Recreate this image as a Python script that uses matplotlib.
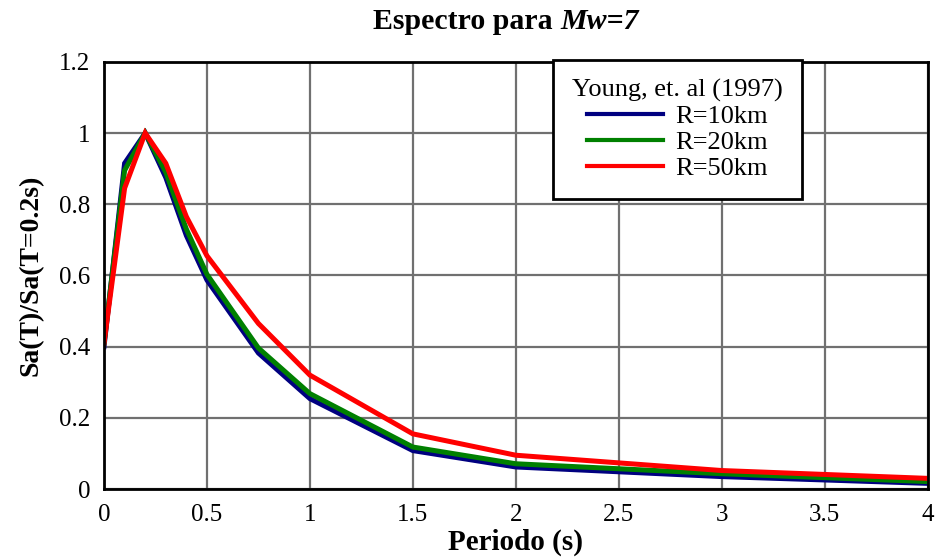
import matplotlib
matplotlib.use("Agg")
import matplotlib.pyplot as plt

periods = [0.0, 0.1, 0.2, 0.3, 0.4, 0.5, 0.75, 1.0, 1.5, 2.0, 3.0, 4.0]
r10 = [0.40, 0.915, 1.0, 0.875, 0.712, 0.587, 0.382, 0.254, 0.108, 0.062, 0.035, 0.016]
r20 = [0.41, 0.895, 1.0, 0.89, 0.73, 0.603, 0.396, 0.268, 0.118, 0.071, 0.043, 0.021]
r50 = [0.41, 0.845, 1.0, 0.915, 0.765, 0.655, 0.465, 0.32, 0.155, 0.095, 0.052, 0.030]
series_labels = ["R=10km", "R=20km", "R=50km"]
colors = ["#000080", "#008000", "#ff0000"]
xticks = [0, 0.5, 1, 1.5, 2, 2.5, 3, 3.5, 4]
xticklabels = ["0", "0.5", "1", "1.5", "2", "2.5", "3", "3.5", "4"]
yticks = [0, 0.2, 0.4, 0.6, 0.8, 1.0, 1.2]
yticklabels = ["0", "0.2", "0.4", "0.6", "0.8", "1", "1.2"]

plt.rcParams["font.family"] = ["Liberation Serif", "DejaVu Serif"]

fig = plt.figure(figsize=(9.37, 5.57), dpi=100)
ax = fig.add_axes([0.111, 0.122, 0.879, 0.767])

for vals, lab, c in zip([r10, r20, r50], series_labels, colors):
    ax.plot(periods, vals, color=c, lw=3.6, label=lab, solid_joinstyle="miter")

ax.set_xlim(0, 4)
ax.set_ylim(0, 1.2)
ax.set_xticks(xticks)
ax.set_xticklabels(xticklabels)
ax.set_yticks(yticks)
ax.set_yticklabels(yticklabels)
ax.tick_params(axis="x", length=0, pad=11, labelsize=18)
ax.tick_params(axis="y", length=0, pad=10, labelsize=18)
ax.grid(True, color="#707070", lw=1.6)
ax.set_axisbelow(True)
for s in ax.spines.values():
    s.set_linewidth(2)
    s.set_color("black")

ax.set_xlabel("Periodo (s)", fontsize=21, fontweight="bold", labelpad=2)
ax.set_ylabel("Sa(T)/Sa(T=0.2s)", fontsize=20, fontweight="bold", labelpad=11)

t1 = fig.text(0.398, 0.962, "Espectro para ", ha="left", va="center",
              fontsize=21.5, fontweight="bold")
ax.annotate("Mw=7", xy=(1, 0), xycoords=t1, ha="left", va="bottom",
            fontsize=21.5, fontweight="bold", fontstyle="italic")

leg = ax.legend(title="Young, et. al (1997)", loc="upper left",
                bbox_to_anchor=(0.545, 1.005), fontsize=19, title_fontsize=19,
                frameon=True, fancybox=False, edgecolor="black", framealpha=1,
                handlelength=2.9, borderpad=0.72, labelspacing=0.1, handletextpad=0.45,
                borderaxespad=0)
leg.get_frame().set_linewidth(2)
for l in leg.get_lines():
    l.set_linewidth(3)

fig.savefig("out.png", dpi=100)
